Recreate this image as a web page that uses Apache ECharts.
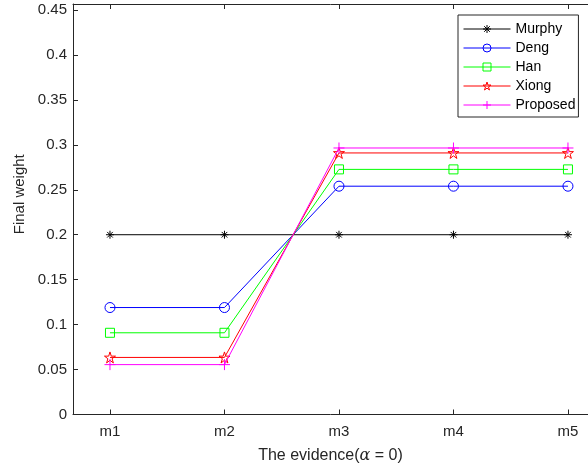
<!DOCTYPE html>
<html><head><meta charset="utf-8">
<script src="https://cdn.jsdelivr.net/npm/echarts@6/dist/echarts.min.js"></script>
<style>html,body{margin:0;padding:0;background:#fff}#c{width:588px;height:471px}</style>
</head><body><div id="c"></div>
<script>
const categories = ['m1','m2','m3','m4','m5'];
const yTicks = [0,0.05,0.1,0.15,0.2,0.25,0.3,0.35,0.4,0.45];
const murphy   = [0.2, 0.2, 0.2, 0.2, 0.2];
const deng     = [0.119, 0.119, 0.254, 0.254, 0.254];
const han      = [0.0909, 0.0909, 0.2727, 0.2727, 0.2727];
const xiong    = [0.0635, 0.0635, 0.291, 0.291, 0.291];
const proposed = [0.0555, 0.0555, 0.2965, 0.2965, 0.2965];
const seriesNames = ['Murphy','Deng','Han','Xiong','Proposed'];

const FONT = 'Liberation Sans, Arial, Helvetica, sans-serif';
const TXT = '#262626';
const xIdx = categories.map((c,i)=>i+1);
const toPts = arr => arr.map((v,i)=>[xIdx[i], v]);

const STAR = 'path://M0,-10L2.245,-3.09L9.51,-3.09L3.63,1.18L5.88,8.09L0,3.82L-5.88,8.09L-3.63,1.18L-9.51,-3.09L-2.245,-3.09Z';
const ASTER = 'path://M0,-5L0,5M-5,0L5,0M-3.5,-3.5L3.5,3.5M-3.5,3.5L3.5,-3.5';
const PLUS = 'path://M0,-5L0,5M-5,0L5,0';

const styles = [
  {color:'#000000', symbol:ASTER, size:8},
  {color:'#0000ff', symbol:'circle', size:10},
  {color:'#00ff00', symbol:'rect', size:9},
  {color:'#ff0000', symbol:STAR, size:11},
  {color:'#ff00ff', symbol:PLUS, size:11}
];
const datasets = [murphy, deng, han, xiong, proposed];

const series = datasets.map((d,k)=>({
  name: seriesNames[k],
  type:'line',
  data: toPts(d),
  symbol: styles[k].symbol,
  symbolSize: styles[k].size,
  showAllSymbol:true,
  color: styles[k].color,
  lineStyle:{color:styles[k].color, width:1},
  itemStyle:{color:'rgba(0,0,0,0)', borderColor:styles[k].color, borderWidth:1},
  emphasis:{disabled:true},
  animation:false,
  z: 2+k
}));

const legendData = seriesNames.map((n,k)=>({
  name:n,
  itemStyle:{color:'rgba(0,0,0,0)', borderColor:styles[k].color, borderWidth:1},
  lineStyle:{color:styles[k].color, width:1}
}));

const XMIN = 0.677, XMAX = 5.175;
const chart = echarts.init(document.getElementById('c'), null, {renderer:'canvas'});
chart.setOption({
  backgroundColor:'#fff',
  animation:false,
  grid:{left:73, right:0, top:4, bottom:56.5, containLabel:false},
  legend:{
    left:458, top:15, orient:'vertical',
    data: legendData,
    itemWidth:47, itemHeight:10, itemGap:5,
    padding:[7,3,5,5],
    borderColor:TXT, borderWidth:1, backgroundColor:'#fff',
    textStyle:{fontFamily:FONT, fontSize:14, color:'#000'},
    selectedMode:false
  },
  xAxis:[{
    type:'value', min:XMIN, max:XMAX, position:'bottom',
    name:'{a|The evidence(}{b|α}{a| = 0)}', nameLocation:'middle', nameGap:33,
    nameTextStyle:{rich:{a:{fontFamily:FONT,fontSize:16,color:TXT}, b:{fontFamily:'DejaVu Serif, serif',fontStyle:'italic',fontSize:16,color:TXT}}},
    axisLine:{show:true, lineStyle:{color:TXT, width:1}},
    axisTick:{show:true, inside:true, length:5, customValues:xIdx, lineStyle:{color:TXT}},
    axisLabel:{customValues:xIdx, formatter:v=>categories[Math.round(v)-1], fontFamily:FONT, fontSize:15, color:TXT, margin:10},
    splitLine:{show:false}
  },{
    type:'value', min:XMIN, max:XMAX, position:'top',
    axisLine:{show:true, lineStyle:{color:TXT, width:1}},
    axisTick:{show:true, inside:true, length:5, customValues:xIdx, lineStyle:{color:TXT}},
    axisLabel:{show:false, customValues:xIdx},
    splitLine:{show:false}
  }],
  yAxis:{
    type:'value', min:0, max:0.4567,
    name:'Final weight', nameLocation:'middle', nameGap:41, nameRotate:90,
    nameTextStyle:{fontFamily:FONT, fontSize:15, color:TXT, padding:[0,0,0,30]},
    axisLine:{show:true, lineStyle:{color:TXT, width:1}},
    axisTick:{show:true, inside:true, length:5, customValues:yTicks, lineStyle:{color:TXT}},
    axisLabel:{customValues:yTicks, formatter:v=>String(+(+v).toFixed(2)), fontFamily:FONT, fontSize:15, color:TXT, margin:6},
    splitLine:{show:false}
  },
  series: series
});
</script></body></html>
